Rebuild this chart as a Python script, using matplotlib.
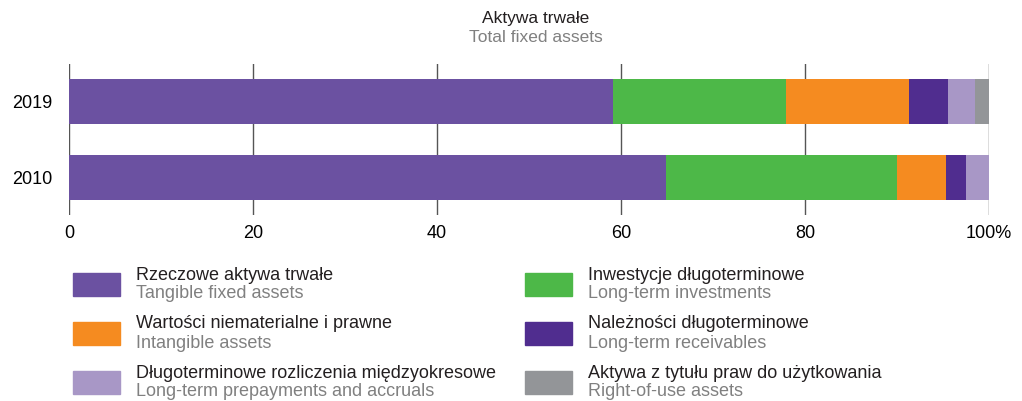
import numpy as np
import matplotlib.pyplot as plt
from matplotlib.patches import Rectangle

plt.rcParams['font.family'] = ['Liberation Sans', 'DejaVu Sans']

years = ['2010', '2019']
series_pl = ['Rzeczowe aktywa trwałe', 'Inwestycje długoterminowe',
             'Wartości niematerialne i prawne', 'Należności długoterminowe',
             'Długoterminowe rozliczenia międzyokresowe', 'Aktywa z tytułu praw do użytkowania']
series_en = ['Tangible fixed assets', 'Long-term investments',
             'Intangible assets', 'Long-term receivables',
             'Long-term prepayments and accruals', 'Right-of-use assets']
# values per series: [2010, 2019]
tangible = [64.9, 59.1]
investments = [25.1, 18.8]
intangible = [5.3, 13.4]
receivables = [2.2, 4.2]
prepayments = [2.5, 3.0]
right_of_use = [0.0, 1.5]
colors = ['#6b51a1', '#4db848', '#f58b20', '#502d8f', '#a897c6', '#939598']

values = [tangible, investments, intangible, receivables, prepayments, right_of_use]

fig = plt.figure(figsize=(10.22, 4.01), dpi=100)
ax = fig.add_axes([69/1022, 1-215/401, 920/1022, 151/401])

y = np.arange(len(years))
left = np.zeros(len(years))
for vals, c in zip(values, colors):
    ax.barh(y, vals, left=left, height=0.59, color=c, zorder=2)
    left += np.array(vals)

ax.set_xlim(0, 100)
ax.set_ylim(-0.493, 1.493)
ax.set_xticks(range(0, 101, 20))
ax.set_xticklabels(['0', '20', '40', '60', '80', '100%'])
ax.set_yticks(y)
ax.set_yticklabels(years)
ax.tick_params(length=0, labelsize=13, pad=7)
ax.tick_params(axis='y', pad=12)
for s in ax.spines.values():
    s.set_visible(False)
ax.grid(axis='x', color='#555555', linewidth=1.0, zorder=1)

fig.text(0.524, 1-18/401, 'Aktywa trwałe', ha='center', va='center', fontsize=12.5, color='#231f20')
fig.text(0.524, 1-38/401, 'Total fixed assets', ha='center', va='center', fontsize=12.5, color='#808080')

# legend
col_x = [73, 525]
row_y = [273, 322, 371]
for i in range(len(series_pl)):
    cx = col_x[i % 2]
    ry = row_y[i // 2]
    fig.add_artist(Rectangle((cx/1022, 1-(ry+23)/401), 47/1022, 23/401,
                             transform=fig.transFigure, color=colors[i]))
    fig.text((cx+63)/1022, 1-(ry+2)/401, series_pl[i], ha='left', va='center',
             fontsize=13, color='#231f20')
    fig.text((cx+63)/1022, 1-(ry+21)/401, series_en[i], ha='left', va='center',
             fontsize=13, color='#808080')

fig.savefig('out.png', dpi=100)
